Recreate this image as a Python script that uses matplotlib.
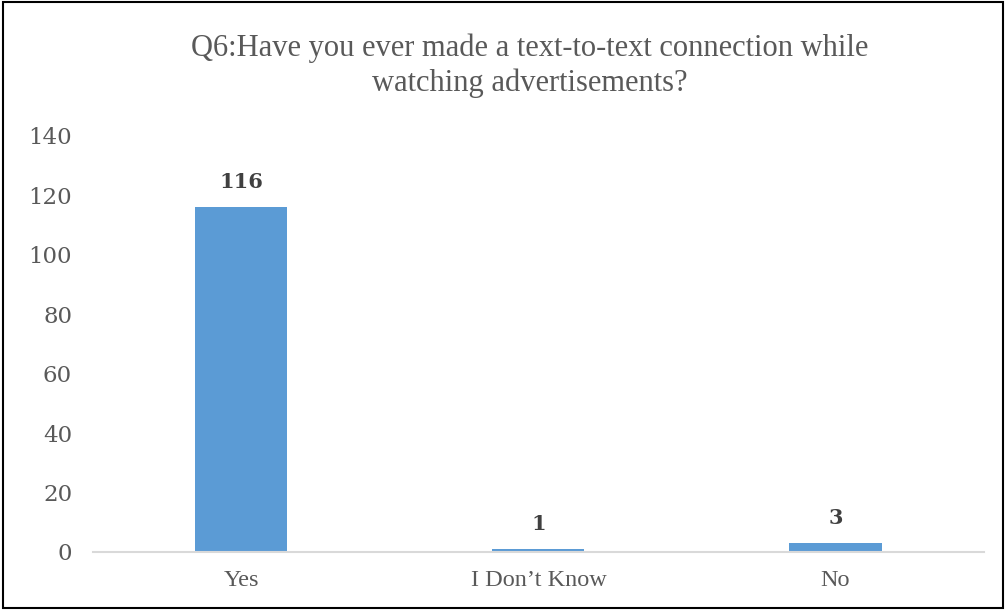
import matplotlib.pyplot as plt
from matplotlib.patches import Rectangle

categories = ["Yes", "I Don\u2019t Know", "No"]
counts = [116, 1, 3]

title = "Q6:Have you ever made a text-to-text connection while\nwatching advertisements?"
yticks = [0, 20, 40, 60, 80, 100, 120, 140]

bar_color = "#5B9BD5"
text_color = "#595959"

fig = plt.figure(figsize=(10.06, 6.10), dpi=100)
ax = fig.add_axes([0.0924, 0.0951, 0.8857, 0.682])

x = range(len(categories))
bars = ax.bar(x, counts, width=0.31, color=bar_color, zorder=2)

for bar, val in zip(bars, counts):
    ax.annotate(str(val), (bar.get_x() + bar.get_width() / 2, bar.get_height()),
                xytext=(0, 11), textcoords="offset points", ha="center", va="bottom",
                fontsize=15, fontweight="bold", family="DejaVu Serif", color="#404040")

ax.set_xlim(-0.5, len(categories) - 0.5)
ax.set_ylim(0, 140)
ax.set_yticks(yticks)
ax.set_yticklabels([str(t) for t in yticks], family="DejaVu Serif", fontsize=16.5, color=text_color)
ax.set_xticks(list(x))
ax.set_xticklabels(categories, family="Liberation Serif", fontsize=17.5, color=text_color)
ax.tick_params(axis="y", length=0, pad=15)
ax.tick_params(axis="x", length=0, pad=13)

for side in ["left", "right", "top"]:
    ax.spines[side].set_visible(False)
ax.spines["bottom"].set_color("#D9D9D9")
ax.spines["bottom"].set_linewidth(1.5)
ax.spines["bottom"].set_zorder(3)

fig.text(0.527, 0.892, title, ha="center", va="center", fontsize=22,
         family="Liberation Serif", color=text_color, linespacing=1.22)

# outer frame
fig.patches.append(Rectangle((0.003, 0.003), 0.994, 0.993, transform=fig.transFigure,
                             fill=False, edgecolor="black", linewidth=1.5))

fig.savefig("out.png", dpi=100)
